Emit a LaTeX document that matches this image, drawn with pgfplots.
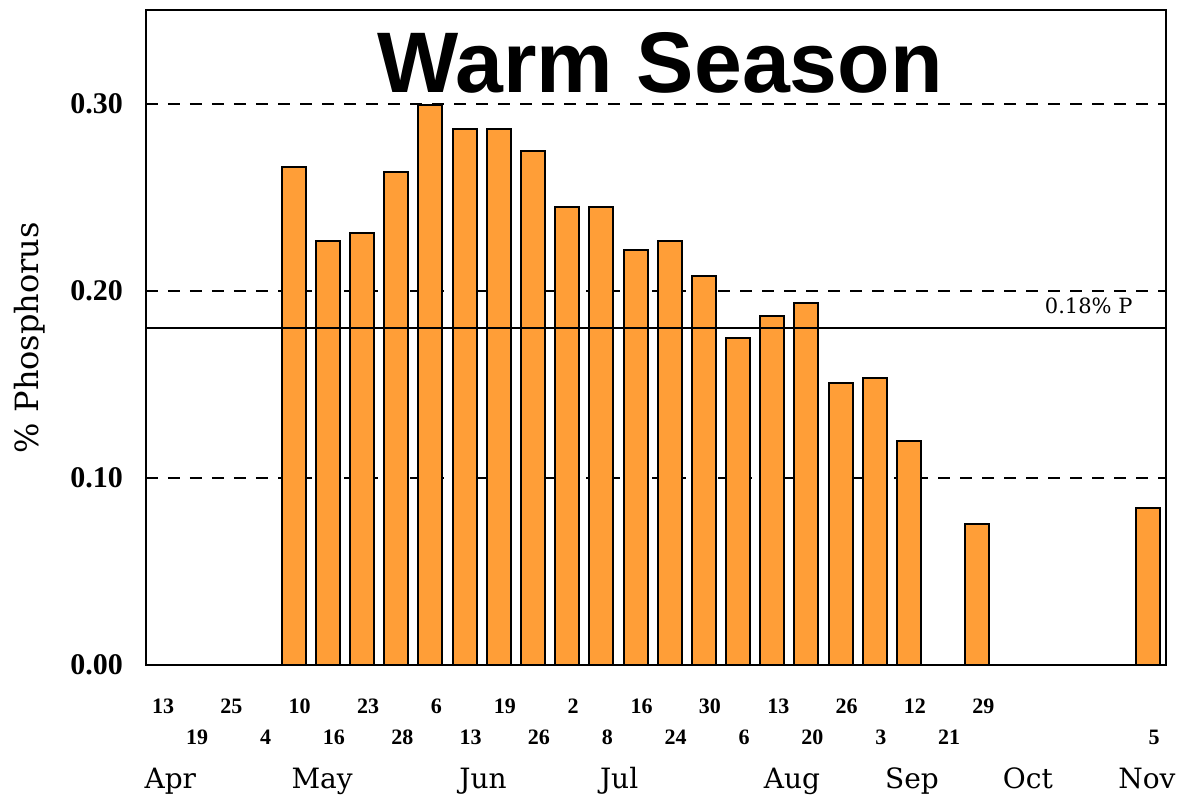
\documentclass[border=0pt]{standalone}
\usepackage{pgfplots}
\pgfplotsset{compat=1.18}
\usepackage{fontspec}
\setmainfont{DejaVu Serif}
\newfontfamily\tickfont{Liberation Serif}
\newfontfamily\titlefont{Liberation Sans}
\definecolor{barorange}{RGB}{255,158,55}
\tikzset{month/.style={anchor=base, inner sep=0pt, yshift=-61.5pt, font=\fontsize{14}{14}\selectfont}}
\begin{document}
\begin{tikzpicture}
\path[use as bounding box] (-73pt,-65.5pt) rectangle (518pt,332.5pt);
\begin{axis}[
  at={(0,0)}, anchor=south west,
  scale only axis, width=510pt, height=327.5pt,
  xmin=-0.322, xmax=29.52, ymin=0, ymax=0.35,
  clip=false,
  axis line style={line width=1pt, black},
  ytick={0,0.1,0.2,0.3}, yticklabels={0.00,0.10,0.20,0.30},
  ytick pos=left, ytick align=inside, major tick length=4pt,
  ytick style={line width=1pt, black},
  yticklabel style={font=\tickfont\bfseries\fontsize{15}{15}\selectfont, xshift=-8pt},
  ymajorgrids, grid style={dash pattern=on 6pt off 5pt, line width=1pt, black},
  xtick={0,2,...,24}, xticklabels={13,25,10,23,6,19,2,16,30,13,26,12,29},
  xtick style={draw=none},
  xticklabel style={font=\tickfont\bfseries\fontsize{11}{11}\selectfont, anchor=center, xshift=3pt, yshift=-20.5pt},
  extra x ticks={1,3,...,23,29},
  extra x tick labels={19,4,16,28,13,26,8,24,6,20,3,21,5},
  extra x tick style={grid=none, major tick length=0pt, xticklabel style={yshift=-15.5pt}},
  ylabel={\% Phosphorus},
  ylabel style={font=\fontsize{16}{16}\selectfont, at={(axis description cs:-0.1137,0.5)}, anchor=center},
]
\addplot[ybar, bar width=12pt, fill=barorange, draw=black, line width=1pt] coordinates {
  (4,0.266) (5,0.2264) (6,0.2306) (7,0.2632) (8,0.299) (9,0.2862) (10,0.2862)
  (11,0.2744) (12,0.2445) (13,0.2445) (14,0.222) (15,0.2264) (16,0.2077)
  (17,0.1746) (18,0.1863) (19,0.1933) (20,0.1505) (21,0.1532) (22,0.1196)
  (24,0.0753) (29,0.0838)
};
\addplot[black, line width=1pt, forget plot] coordinates {(-0.322,0.18) (29.52,0.18)};
\node[anchor=base east, inner sep=0pt, font=\fontsize{10.5}{10.5}\selectfont] at (axis cs:28.55,0.188) {0.18\% P};
\node[anchor=base, inner sep=0pt, font=\titlefont\bfseries\fontsize{43}{43}\selectfont] at (axis cs:14.72,0.306) {Warm Season};
\node[month] at (axis cs:0.39,0) {Apr};
\node[month] at (axis cs:4.83,0) {May};
\node[month] at (axis cs:9.54,0) {Jun};
\node[month] at (axis cs:13.52,0) {Jul};
\node[month] at (axis cs:18.58,0) {Aug};
\node[month] at (axis cs:22.09,0) {Sep};
\node[month] at (axis cs:25.48,0) {Oct};
\node[month] at (axis cs:28.96,0) {Nov};
\end{axis}
\end{tikzpicture}
\end{document}
